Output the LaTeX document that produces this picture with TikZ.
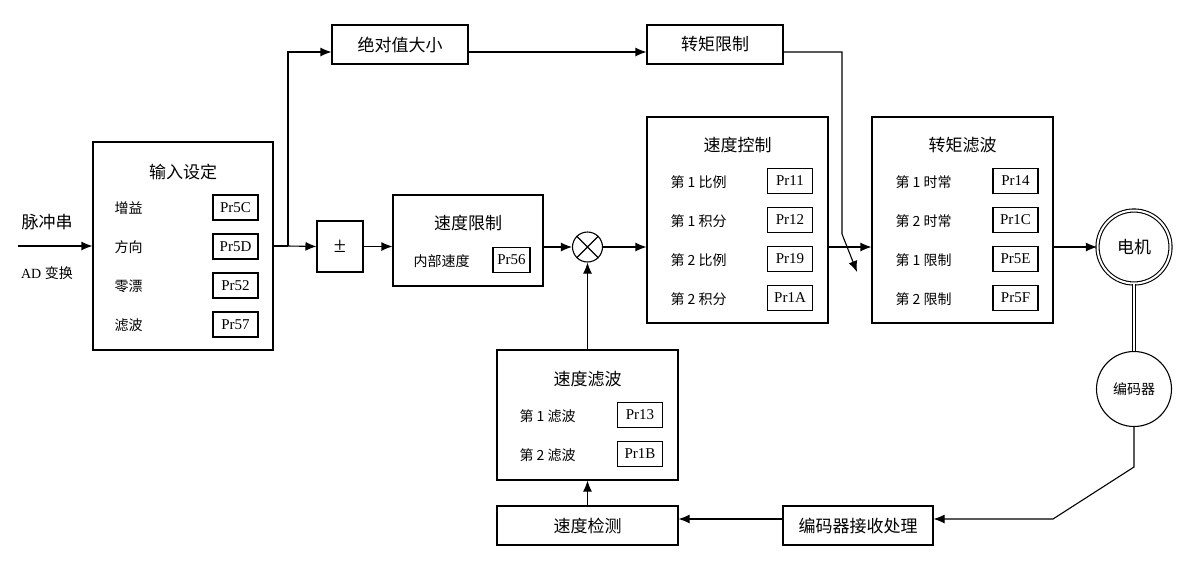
\documentclass[tikz,border=0pt]{standalone}
\usepackage{fontspec}
\setmainfont{Liberation Serif}
\newfontfamily\cjk{Noto Sans CJK SC}
\usetikzlibrary{arrows.meta,calc}

\tikzset{
	blk/.style={draw, line width=1.1pt, inner sep=0pt},
	prm/.style={draw, line width=1.1pt, minimum width=45pt, minimum height=25pt, inner sep=0pt, font=\fontsize{15}{15}\selectfont},
	ttl/.style={font=\cjk\fontsize{17}{17}\selectfont},
	lbl/.style={anchor=west, font=\cjk\fontsize{14}{14}\selectfont},
	sig/.style={line width=1.1pt, -{Latex[length=11pt,width=9pt]}},
}

\begin{document}
\begin{tikzpicture}[x=1pt,y=-1pt]
	\useasboundingbox (0,0) rectangle (1191,579);
	% input settings
	\node[blk, minimum width=180pt, minimum height=208pt] (inset) at (183,246) {};
	\node[ttl] (inset-t) at (183,172) {输入设定};
	\foreach \lab/\code [count=\i from 0] in {增益/Pr5C, 方向/Pr5D, 零漂/Pr52, 滤波/Pr57} {
		\node[lbl] (inset-l\i) at (111,208+39*\i) {\lab};
		\node[prm] (inset-p\i) at (235.5,207.5+39*\i) {\code};
	}
	\coordinate (src) at (18,246);
	\draw[sig] (src) -- (inset.west);
	\node[ttl] (pulse) at (47,222) {脉冲串};
	\node[font=\fontsize{14}{14}\selectfont] (adc) at (47,273) {AD {\cjk 变换}};
	% upper path
	\coordinate (j) at (288,246);
	\node[blk, minimum width=136pt, minimum height=39pt, ttl] (absval) at (400,44.5) {绝对值大小};
	\node[blk, minimum width=136pt, minimum height=39pt, ttl] (trqlim) at (715,44.5) {转矩限制};
	\draw[line width=1.1pt] (inset.east) -- (j);
	\draw[sig] (j) |- ([yshift=-7.5pt]absval.west);
	\draw[sig] ([yshift=-7.5pt]absval.east) -- ([yshift=-7.5pt]trqlim.west);
	\coordinate (bend) at (842,234);
	\coordinate (tip) at (857,272);
	\draw[sig] ([yshift=-7.5pt]trqlim.east) -| (bend) -- (tip);
	% sign and speed limit
	\node[blk, minimum width=46pt, minimum height=51pt, font=\fontsize{22}{22}\selectfont] (pm) at (340,246.5) {±};
	\draw[sig] (j) -- (pm.west);
	\node[blk, minimum width=150pt, minimum height=91pt] (spdlim) at (468,240.5) {};
	\node[ttl] (spdlim-t) at (468,223) {速度限制};
	\node[lbl] (spdlim-l) at (410,261) {内部速度};
	\node[prm, minimum width=37pt] (spdlim-p) at (511.5,260) {Pr56};
	\draw[sig] (pm.east) -- (pm.east -| spdlim.west);
	\node[draw, circle, line width=1.1pt, minimum size=30pt, inner sep=0pt] (mix) at (587.5,247) {};
	\draw[line width=1.1pt] (mix.north west) -- (mix.south east) (mix.north east) -- (mix.south west);
	\draw[sig] (mix -| spdlim.east) -- (mix.west);
	% speed control
	\node[blk, minimum width=181pt, minimum height=206pt] (spdctl) at (737.5,220) {};
	\node[ttl] (spdctl-t) at (737.5,145) {速度控制};
	\foreach \lab/\code [count=\i from 0] in {第 1 比例/Pr11, 第 1 积分/Pr12, 第 2 比例/Pr19, 第 2 积分/Pr1A} {
		\node[lbl] (spdctl-l\i) at (667,182+39*\i) {\lab};
		\node[prm] (spdctl-p\i) at (790,181+39*\i) {\code};
	}
	\draw[sig] (mix.east) -- (mix -| spdctl.west);
	% torque filter
	\node[blk, minimum width=181pt, minimum height=206pt] (trqflt) at (962.5,220) {};
	\node[ttl] (trqflt-t) at (962.5,145) {转矩滤波};
	\foreach \lab/\code [count=\i from 0] in {第 1 时常/Pr14, 第 2 时常/Pr1C, 第 1 限制/Pr5E, 第 2 限制/Pr5F} {
		\node[lbl] (trqflt-l\i) at (892,182+39*\i) {\lab};
		\node[prm] (trqflt-p\i) at (1015.5,181+39*\i) {\code};
	}
	\draw[sig] (mix -| spdctl.east) -- (mix -| trqflt.west);
	% motor and encoder
	\node[draw, circle, line width=1.1pt, double, double distance=2pt, minimum size=73pt, inner sep=0pt, ttl] (motor) at (1134,247) {电机};
	\draw[sig] (mix -| trqflt.east) -- (motor.west);
	\node[draw, circle, line width=1.1pt, minimum size=75pt, inner sep=0pt, font=\cjk\fontsize{14}{14}\selectfont] (enc) at (1134,389) {编码器};
	\draw[line width=1.1pt, double, double distance=2pt] (motor.south) -- (enc.north);
	% feedback path
	\node[blk, minimum width=150pt, minimum height=39pt, ttl] (encrx) at (858,525.5) {编码器接收处理};
	\node[blk, minimum width=181pt, minimum height=39pt, ttl] (spddet) at (587.5,525.5) {速度检测};
	\coordinate (e1) at (1134,467);
	\coordinate (e2) at (1053,519);
	\draw[sig] (enc.south) -- (e1) -- (e2) -- (e2 -| encrx.east);
	\draw[sig] (e2 -| encrx.west) -- (e2 -| spddet.east);
	\node[blk, minimum width=181pt, minimum height=130pt] (spdflt) at (587.5,415) {};
	\node[ttl] (spdflt-t) at (587.5,379) {速度滤波};
	\foreach \lab/\code [count=\i from 0] in {第 1 滤波/Pr13, 第 2 滤波/Pr1B} {
		\node[lbl] (spdflt-l\i) at (516,416+39*\i) {\lab};
		\node[prm] (spdflt-p\i) at (640,415+39*\i) {\code};
	}
	\draw[sig] (spddet.north) -- (spdflt.south);
	\draw[sig] (spdflt.north) -- (mix.south);
\end{tikzpicture}
\end{document}
